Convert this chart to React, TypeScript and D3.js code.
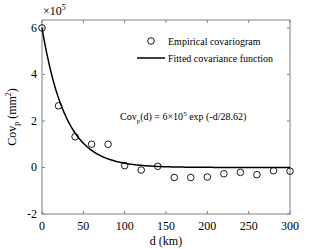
import * as React from 'react';
import * as d3 from 'd3';

// empirical covariogram, values in 1e5 mm^2
const lags = [0, 20, 40, 60, 80, 100, 120, 140, 160, 180, 200, 220, 240, 260, 280, 300];
const cov = [6.0, 2.65, 1.32, 1.0, 1.0, 0.08, -0.11, 0.05, -0.43, -0.43, -0.41, -0.27, -0.21, -0.31, -0.14, -0.16];
// fitted exponential model, as printed on the chart
const sill = 6;
const range = 28.62;
const xTicks = [0, 50, 100, 150, 200, 250, 300];
const yTicks = [-2, 0, 2, 4, 6];

const W = 320, H = 249;
const margin = { top: 20, right: 30, bottom: 35, left: 42 };
const font = "'Liberation Serif', 'DejaVu Serif', serif";
const axisColor = '#808080';

const App = () => {
    const x = d3.scaleLinear().domain([0, 300]).range([margin.left, W - margin.right]);
    const y = d3.scaleLinear().domain([-2, 6.34]).range([H - margin.bottom, margin.top]);
    const x0 = x.range()[0], x1 = x.range()[1];
    const y0 = y.range()[0], y1 = y.range()[1];

    const fitPts = d3.range(0, 300.5, 1).map((d) => [d, sill * Math.exp(-d / range)] as [number, number]);
    const line = d3.line<[number, number]>().x((p) => x(p[0])).y((p) => y(p[1]));

    return (
        <svg width={W} height={H} style={{ position: 'absolute', left: 0, top: 0, background: '#fff', fontFamily: font }}>
            <rect x={x0} y={y1} width={x1 - x0} height={y0 - y1} fill="none" stroke={axisColor} strokeWidth={1} />
            {xTicks.map((t) => (
                <g key={'x' + t}>
                    <line x1={x(t)} x2={x(t)} y1={y0} y2={y0 - 3} stroke={axisColor} />
                    <line x1={x(t)} x2={x(t)} y1={y1} y2={y1 + 3} stroke={axisColor} />
                    <text x={x(t)} y={y0 + 16} textAnchor="middle" fontSize={12}>{t}</text>
                </g>
            ))}
            {yTicks.map((t) => (
                <g key={'y' + t}>
                    <line x1={x0} x2={x0 + 3} y1={y(t)} y2={y(t)} stroke={axisColor} />
                    <line x1={x1} x2={x1 - 3} y1={y(t)} y2={y(t)} stroke={axisColor} />
                    <text x={x0 - 5} y={y(t) + 4} textAnchor="end" fontSize={12}>{t}</text>
                </g>
            ))}
            <text x={x0 + 1} y={15} fontSize={12}>×10<tspan dy={-5} fontSize={8}>5</tspan></text>

            <path d={line(fitPts) || ''} fill="none" stroke="#000" strokeWidth={1.5} />
            {lags.map((d, i) => (
                <circle key={d} cx={x(d)} cy={y(cov[i])} r={3.3} fill="none" stroke="#000" strokeWidth={0.9} />
            ))}

            {/* legend */}
            <circle cx={151} cy={41} r={3.3} fill="none" stroke="#000" strokeWidth={0.9} />
            <text x={168} y={44.5} fontSize={10}>Empirical covariogram</text>
            <line x1={137} x2={165} y1={58} y2={58} stroke="#000" strokeWidth={1.5} />
            <text x={168} y={61.5} fontSize={10}>Fitted covariance function</text>

            <text x={120} y={120} fontSize={10}>
                Cov<tspan dy={3} fontSize={7}>p</tspan><tspan dy={-3}>(d) = 6×10</tspan><tspan dy={-4} fontSize={7}>5</tspan><tspan dy={4}> exp (-d/28.62)</tspan>
            </text>

            <text x={(x0 + x1) / 2} y={H - 4} textAnchor="middle" fontSize={12}>d (km)</text>
            <text transform={`translate(16, ${(y0 + y1) / 2}) rotate(-90)`} textAnchor="middle" fontSize={12}>
                Cov<tspan dy={3} fontSize={8}>p</tspan><tspan dy={-3}> (mm</tspan><tspan dy={-5} fontSize={8}>2</tspan><tspan dy={5}>)</tspan>
            </text>
        </svg>
    );
};

export default App;
